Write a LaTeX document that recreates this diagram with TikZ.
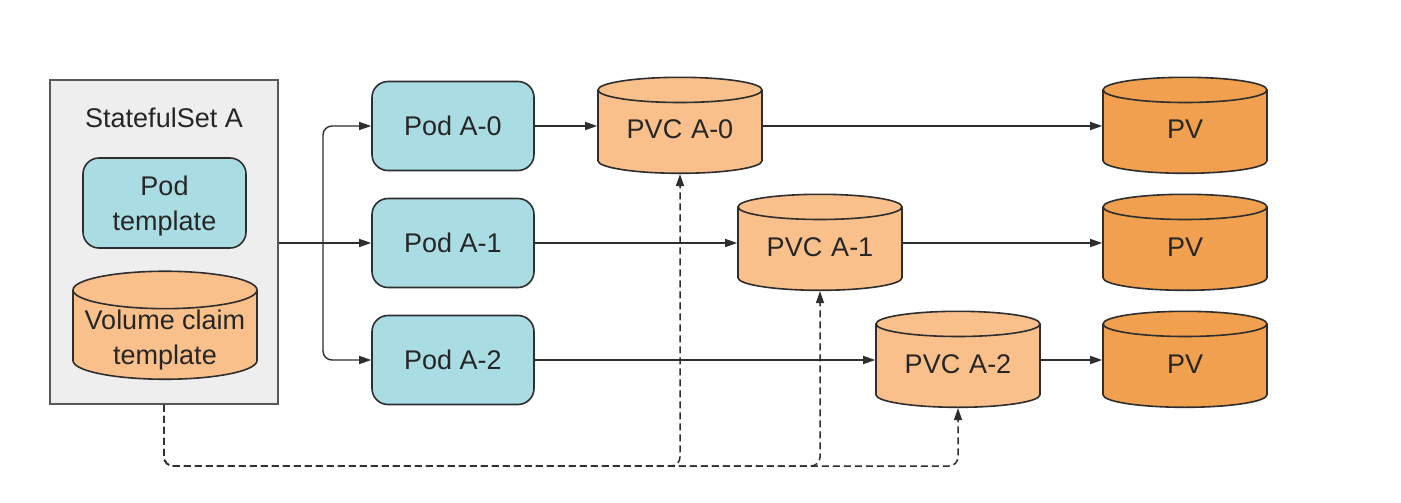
\documentclass[tikz,border=0pt]{standalone}
\usepackage{fontspec}
\setmainfont{Liberation Sans}
\usetikzlibrary{shapes.geometric,arrows.meta}
\definecolor{podc}{HTML}{A9DDE3}
\definecolor{pvcc}{HTML}{F9C08C}
\definecolor{pvc}{HTML}{F0A04E}
\definecolor{setc}{HTML}{EEEEEE}
\definecolor{linec}{HTML}{2E2E2E}
\definecolor{txtc}{HTML}{262626}
\tikzset{
  every node/.style={font=\fontsize{27}{35}\selectfont, text=txtc},
  setbox/.style={draw=linec!80, line width=1.6pt, fill=setc, minimum width=228pt, minimum height=324pt, inner sep=0pt},
  podbox/.style={draw=linec, line width=1.6pt, fill=podc, rounded corners=16pt, minimum width=162pt, minimum height=89pt, inner sep=0pt},
  cyl/.style={cylinder, shape border rotate=90, draw=linec, line width=1.6pt, aspect=0.18, minimum width=164pt, minimum height=96pt, inner sep=0pt, text width=140pt, align=center, text height=20pt, text depth=6pt, cylinder uses custom fill, cylinder body fill=#1, cylinder end fill=#1},
  lbl/.style={align=center, inner sep=0pt},
  arr/.style={draw=linec, line width=1.4pt, -{Triangle[length=12pt,width=8pt]}},
  darr/.style={draw=linec, line width=1.5pt, dash pattern=on 7pt off 4pt, rounded corners=9pt, -{Triangle[length=12pt,width=8pt]}},
}
\begin{document}
\begin{tikzpicture}[x=1pt,y=-1pt]
\path[use as bounding box, fill=white] (0,0) rectangle (1401,503);
\node[setbox] (set) at (164,242) {};
\node (setlbl) at (164,118) {StatefulSet A};
\node[podbox, minimum width=163pt, minimum height=90pt] (podt) at (164.5,203) {};
\node[lbl] (podtl) at (164.5,206) {Pod\\template};
\node[cyl=pvcc, aspect=0.22, minimum width=184pt, minimum height=108pt, text width=170pt] (vct) at (165,335) {};
\node[lbl] (vctl) at (165,340) {Volume claim\\template};
\node[podbox] (p0) at (453,126) {Pod A-0};
\node[podbox] (p1) at (453,243) {Pod A-1};
\node[podbox] (p2) at (453,360) {Pod A-2};
\node[cyl=pvcc] (c0) at (680,132) {PVC A-0};
\node[cyl=pvcc] (c1) at (820,249) {PVC A-1};
\node[cyl=pvcc] (c2) at (958,366) {PVC A-2};
\node[cyl=pvc] (v0) at (1185,132) {PV};
\node[cyl=pvc] (v1) at (1185,249) {PV};
\node[cyl=pvc] (v2) at (1185,366) {PV};
\coordinate (br) at (323,243);
\coordinate (dl) at (164,466);
\draw[arr] (set.east |- p1) -- (p1.west);
\draw[arr, rounded corners=9pt] (br) |- (p0.west);
\draw[arr, rounded corners=9pt] (br) |- (p2.west);
\draw[arr] (p0.east) -- (p0.east -| c0.west);
\draw[arr] (p1.east) -- (p1.east -| c1.west);
\draw[arr] (p2.east) -- (p2.east -| c2.west);
\draw[arr] (c0.east |- p0) -- (v0.west |- p0);
\draw[arr] (c1.east |- p1) -- (v1.west |- p1);
\draw[arr] (c2.east |- p2) -- (v2.west |- p2);
\draw[darr] (set.south) |- (dl -| c0.south) -- (c0.south);
\draw[darr] (set.south) |- (dl -| c1.south) -- (c1.south);
\draw[darr] (set.south) |- (dl -| c2.south) -- (c2.south);
\end{tikzpicture}
\end{document}
